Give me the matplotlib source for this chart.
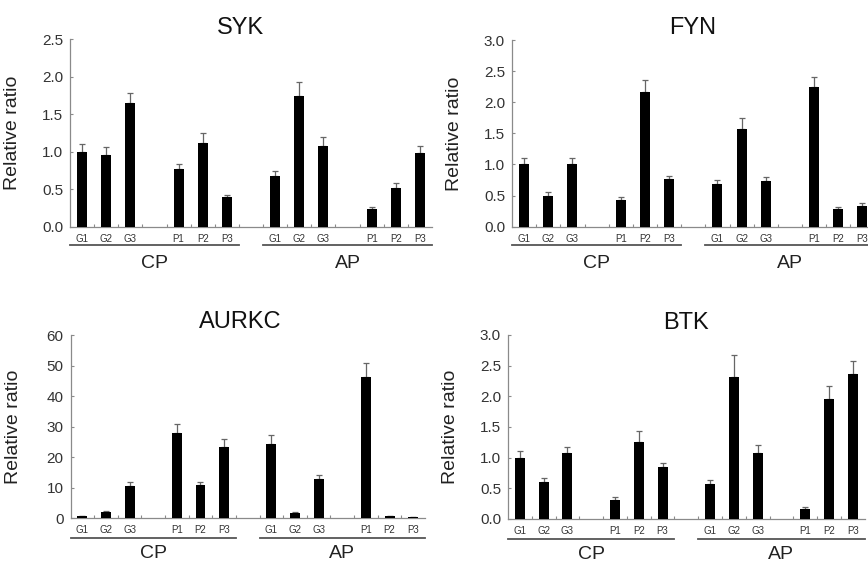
import matplotlib
matplotlib.use("Agg")
import matplotlib.pyplot as plt
import matplotlib.transforms as mtransforms
from matplotlib.ticker import MultipleLocator, FormatStrFormatter
import numpy as np

plt.rcParams['font.family'] = ['Liberation Sans', 'DejaVu Sans']

categories = ["G1", "G2", "G3", "P1", "P2", "P3", "G1", "G2", "G3", "P1", "P2", "P3"]
groups = ["CP", "AP"]

syk_vals = [1.00, 0.96, 1.65, 0.77, 1.11, 0.40, 0.68, 1.74, 1.07, 0.24, 0.52, 0.98]
syk_err = [0.10, 0.10, 0.13, 0.07, 0.14, 0.02, 0.06, 0.19, 0.12, 0.02, 0.06, 0.10]

fyn_vals = [1.00, 0.50, 1.00, 0.43, 2.16, 0.76, 0.69, 1.57, 0.73, 2.25, 0.28, 0.34]
fyn_err = [0.10, 0.06, 0.10, 0.04, 0.20, 0.06, 0.06, 0.17, 0.07, 0.16, 0.03, 0.04]

aurkc_vals = [0.8, 2.2, 10.5, 27.9, 10.8, 23.5, 24.5, 1.9, 12.9, 46.3, 0.8, 0.3]
aurkc_err = [0.1, 0.2, 1.3, 2.9, 1.1, 2.5, 2.8, 0.2, 1.3, 4.7, 0.1, 0.05]

btk_vals = [1.00, 0.61, 1.07, 0.31, 1.25, 0.84, 0.57, 2.32, 1.08, 0.17, 1.95, 2.36]
btk_err = [0.11, 0.06, 0.11, 0.05, 0.19, 0.08, 0.065, 0.36, 0.13, 0.02, 0.22, 0.22]

# slot positions: 3 bars, one empty slot, 3 bars, one empty slot ...
positions = [0, 1, 2, 4, 5, 6, 8, 9, 10, 12, 13, 14]

W, H = 868, 562
fig = plt.figure(figsize=(W / 100, H / 100), dpi=100)

def rect(l, r, t, b):
    return [l / W, (H - b) / H, (r - l) / W, (b - t) / H]

panels = [
    dict(name="SYK", vals=syk_vals, err=syk_err, rect=rect(70, 432, 39.3, 226.7),
         ymax=2.5, step=0.5, fmt="%.1f", tx=0.47, tpad=3.6, ylx=-0.135,
         lab=12, line=18.5, grp=36.5),
    dict(name="FYN", vals=fyn_vals, err=fyn_err, rect=rect(512, 874.5, 40, 226.7),
         ymax=3.0, step=0.5, fmt="%.1f", tx=0.497, tpad=4.6, ylx=-0.135,
         lab=12, line=18.5, grp=36.5),
    dict(name="AURKC", vals=aurkc_vals, err=aurkc_err, rect=rect(70.5, 425, 335.3, 518.3),
         ymax=60, step=10, fmt="%d", tx=0.478, tpad=5.4, ylx=-0.138,
         lab=11.5, line=20, grp=35.5),
    dict(name="BTK", vals=btk_vals, err=btk_err, rect=rect(508, 864.6, 335, 519),
         ymax=3.0, step=0.5, fmt="%.1f", tx=0.5, tpad=4.2, ylx=-0.137,
         lab=11.5, line=20, grp=35.5),
]

spine_col = "#8a8a8a"
text_col = "#222222"

for p in panels:
    ax = fig.add_axes(p["rect"])
    ax.bar(positions, p["vals"], width=0.42, color="black", zorder=3)
    n = len(p["vals"])
    ax.errorbar(positions, p["vals"], yerr=[np.zeros(n), p["err"]], fmt="none",
                ecolor="#666666", elinewidth=0.9, capsize=2, capthick=0.9, zorder=2)
    ax.set_xlim(-0.5, 14.5)
    ax.set_ylim(0, p["ymax"])
    ax.yaxis.set_major_locator(MultipleLocator(p["step"]))
    ax.yaxis.set_major_formatter(FormatStrFormatter(p["fmt"]))
    for s in ("top", "right"):
        ax.spines[s].set_visible(False)
    for s in ("left", "bottom"):
        ax.spines[s].set_color(spine_col)
        ax.spines[s].set_linewidth(0.9)
    ax.tick_params(axis="y", direction="in", length=2, width=0.8, color=spine_col,
                   labelsize=11, labelcolor="#333333", pad=5)
    ax.set_xticks(np.arange(0.5, 14, 1.0))
    ax.tick_params(axis="x", direction="in", length=2, width=0.8, color=spine_col,
                   labelbottom=False)
    ax.set_title(p["name"], fontsize=17, color="#111111", x=p["tx"], pad=p["tpad"])
    ax.set_ylabel("Relative ratio", fontsize=14, color=text_col)
    ax.yaxis.set_label_coords(p["ylx"], 0.5)

    base = ax.get_xaxis_transform()
    def off(px):
        return base + mtransforms.ScaledTranslation(0, -px / 100, fig.dpi_scale_trans)
    for x, c in zip(positions, categories):
        ax.text(x, 0, c, transform=off(p["lab"]), ha="center", va="center",
                fontsize=7, color="#333333")
    spans = [(-0.5, 6.5), (7.5, 14.5)]
    centers = [3, 11]
    for (a, b), cx, g in zip(spans, centers, groups):
        ax.plot([a, b], [0, 0], transform=off(p["line"]), color="#555555",
                linewidth=1.3, clip_on=False)
        ax.text(cx, 0, g, transform=off(p["grp"]), ha="center", va="center",
                fontsize=14, color=text_col)

fig.savefig("out.png", dpi=100)
